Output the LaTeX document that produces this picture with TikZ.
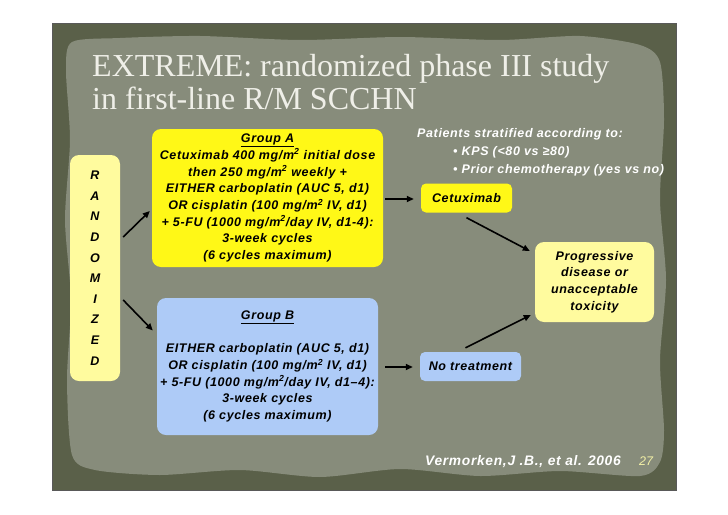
\documentclass[tikz,border=0pt]{standalone}
\usepackage{fontspec}
\setmainfont{Liberation Sans}
\newfontfamily\titlefont{Liberation Serif}
\newfontfamily\bodyfont[LetterSpace=5]{Liberation Sans}
\usetikzlibrary{arrows.meta}
\definecolor{slidedark}{HTML}{5A6049}
\definecolor{slidepanel}{HTML}{878C7B}
\definecolor{yelA}{HTML}{FFF817}
\definecolor{yelL}{HTML}{FFFB9E}
\definecolor{bluA}{HTML}{AECBF7}
\definecolor{titlecol}{HTML}{EFEFE8}
\definecolor{numcol}{HTML}{F2EFA6}
\tikzset{
  body/.style={font=\bodyfont\fontsize{12.5}{16.7}\selectfont\bfseries\itshape, align=center, text=black},
  wtext/.style={font=\bodyfont\fontsize{12.5}{14}\selectfont\bfseries\itshape, text=white, inner sep=0pt},
  panelbox/.style={rounded corners=9pt, inner sep=0pt},
  arr/.style={-{Triangle[length=7pt,width=6pt]}, line width=1.6pt, black},
}
\begin{document}
\begin{tikzpicture}[x=1pt,y=-1pt]
\useasboundingbox (0,0) rectangle (728,514);
\fill[white] (0,0) rectangle (728,514);
\fill[slidedark] (52,23) rectangle (676,490);
\draw[black!65, line width=0.8pt] (52,23) rectangle (676,490);
\fill[slidepanel] plot[smooth cycle, tension=0.45] coordinates {
 (72,42) (120,38) (200,36) (300,40) (400,37) (500,40) (580,36) (640,45) (660,62)
 (664,120) (660,200) (666,280) (660,360) (664,430) (660,462)
 (640,476) (560,471) (480,476) (400,469) (320,477) (240,470) (160,475) (95,470) (72,455)
 (67,380) (71,300) (65,220) (70,140) (66,70)};

% title
\node[anchor=base west, inner sep=0pt, text=titlecol, font=\fontsize{32}{35}\selectfont\titlefont] (t1) at (92,76) {EXTREME: randomized phase III study};
\node[anchor=base west, inner sep=0pt, text=titlecol, font=\fontsize{32}{35}\selectfont\titlefont] (t2) at (92,109) {in first-line R/M SCCHN};

% boxes
\node[panelbox, fill=yelL, minimum width=50pt, minimum height=226pt, body, font=\bodyfont\fontsize{12.5}{20.6}\selectfont\bfseries\itshape] (rand) at (95,268)
 {R\\A\\N\\D\\O\\M\\I\\Z\\E\\D};

\node[panelbox, fill=yelA, minimum width=231pt, minimum height=138pt, body] (ga) at (267.5,198)
 {\underline{Group A}\\
  Cetuximab 400 mg/m\textsuperscript{2} initial dose\\
  then 250 mg/m\textsuperscript{2} weekly +\\
  EITHER carboplatin (AUC 5, d1)\\
  OR cisplatin (100 mg/m\textsuperscript{2} IV, d1)\\
  + 5-FU (1000 mg/m\textsuperscript{2}/day IV, d1-4):\\
  3-week cycles\\
  (6 cycles maximum)};

\node[panelbox, fill=bluA, minimum width=221pt, minimum height=137pt, body] (gb) at (267.5,366.5)
 {\underline{Group B}\\
  \mbox{}\\
  EITHER carboplatin (AUC 5, d1)\\
  OR cisplatin (100 mg/m\textsuperscript{2} IV, d1)\\
  + 5-FU (1000 mg/m\textsuperscript{2}/day IV, d1–4):\\
  3-week cycles\\
  (6 cycles maximum)};

\node[panelbox, rounded corners=5pt, fill=yelA, minimum width=91pt, minimum height=29pt, body] (cet) at (466.5,198) {Cetuximab};
\node[panelbox, rounded corners=5pt, fill=bluA, minimum width=101pt, minimum height=29pt, body] (notr) at (470.5,366.5) {No treatment};
\node[panelbox, fill=yelL, minimum width=119pt, minimum height=80pt, body] (prog) at (594.5,282)
 {Progressive\\disease or\\unacceptable\\toxicity};

% arrows
\draw[arr] ([xshift=3pt,yshift=31pt]rand.east) -- ([xshift=-2pt,yshift=-13pt]ga.west);
\draw[arr] ([xshift=3pt,yshift=-32pt]rand.east) -- ([xshift=-4pt,yshift=36pt]gb.west);
\draw[arr] ([xshift=2pt,yshift=-1pt]ga.east) -- ([xshift=-7pt,yshift=-1pt]cet.west);
\draw[arr] ([xshift=7pt,yshift=-0.5pt]gb.east) -- ([xshift=-7pt,yshift=-0.5pt]notr.west);
\draw[arr] ([yshift=-5pt]cet.south) -- ([xshift=-5pt,yshift=31pt]prog.west);
\draw[arr] ([xshift=-5pt,yshift=4pt]notr.north) -- ([xshift=-4pt,yshift=-33pt]prog.west);

% texts
\node[wtext, anchor=west] (strat) at (417,134) {Patients stratified according to:};
\node[wtext, anchor=west] (kps) at (453,152) {\textbullet\ KPS (<80 vs ≥80)};
\node[wtext, anchor=west] (prior) at (453,170) {\textbullet\ Prior chemotherapy (yes vs no)};
\node[wtext, anchor=west, font=\bodyfont\fontsize{13.8}{15}\selectfont\bfseries\itshape] (ref) at (425,462) {Vermorken,J .B., et al. 2006};
\node[wtext, anchor=west, text=numcol, font=\fontsize{12.5}{13}\selectfont\itshape] (num) at (639,461) {27};
\end{tikzpicture}
\end{document}
